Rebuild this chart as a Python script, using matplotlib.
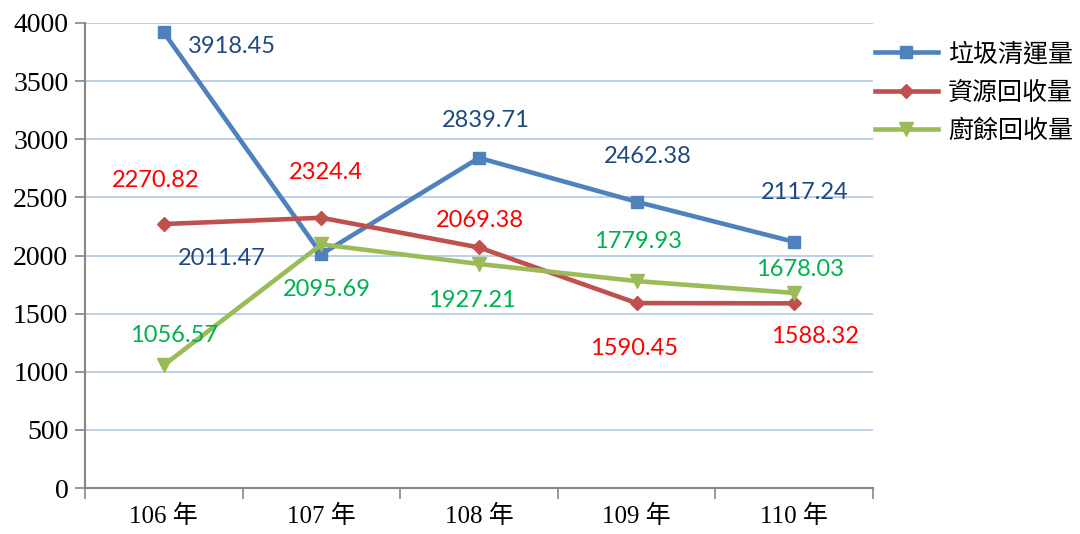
import matplotlib.pyplot as plt
import numpy as np

years = ["106 年", "107 年", "108 年", "109 年", "110 年"]
garbage = [3918.45, 2011.47, 2839.71, 2462.38, 2117.24]
recycle = [2270.82, 2324.4, 2069.38, 1590.45, 1588.32]
kitchen = [1056.57, 2095.69, 1927.21, 1779.93, 1678.03]
names = ["垃圾清運量", "資源回收量", "廚餘回收量"]

# label offsets in pixels (dx, dy), dy positive = up
off_garbage = [(68, -14), (-100, -4), (7, 37), (11, 45), (10, 49)]
off_recycle = [(-8, 44), (4, 45), (1, 27), (-3, -45), (21, -33)]
off_kitchen = [(10, 30), (5, -45), (-7, -37), (1, 40), (6, 23)]

cjk = ["Noto Sans CJK TC", "DejaVu Sans"]
serif = ["Liberation Serif", "Noto Sans CJK TC"]

fig = plt.figure(figsize=(10.8, 5.34), dpi=100)
ax = fig.add_axes([85 / 1080, 46 / 534, 788 / 1080, 465 / 534])

x = np.arange(len(years))
series = [
    (garbage, "#4f81bd", "s", 9, "#1f497d", off_garbage),
    (recycle, "#c0504d", "D", 7, "#ff0000", off_recycle),
    (kitchen, "#9bbb59", "v", 10, "#00b050", off_kitchen),
]
for (vals, col, mk, ms, lcol, offs), name in zip(series, names):
    ax.plot(x, vals, color=col, lw=3.3, marker=mk, ms=ms, label=name, zorder=3)
    for xi, v, (dx, dy) in zip(x, vals, offs):
        ax.annotate(f"{v:g}", (xi, v), xytext=(dx * 0.72, dy * 0.72),
                    textcoords="offset points", ha="center", va="center",
                    fontsize=17, color=lcol, family="Lato", zorder=4)

ax.set_xlim(-0.5, 4.5)
ax.set_ylim(0, 4000)
ax.set_yticks(np.arange(0, 4001, 500))
ax.set_yticklabels([str(v) for v in range(0, 4001, 500)], family=serif, fontsize=20)
ax.yaxis.grid(True, color="#b9cde5", lw=1.3)
ax.set_axisbelow(True)

ax.set_xticks(np.arange(-0.5, 5, 1))
ax.set_xticklabels([])
ax.set_xticks(x, minor=True)
ax.set_xticklabels(years, minor=True, family=serif, fontsize=18)
ax.tick_params(axis="x", which="major", length=8, color="#868686", width=1.2)
ax.tick_params(axis="x", which="minor", length=0, pad=12)
ax.tick_params(axis="y", length=7, color="#868686", width=1.2, pad=5)

for s in ["top", "right"]:
    ax.spines[s].set_visible(False)
for s in ["left", "bottom"]:
    ax.spines[s].set_color("#868686")
    ax.spines[s].set_linewidth(1.5)

leg = ax.legend(loc="upper left", bbox_to_anchor=(875 / 1080, 493 / 534),
                bbox_transform=fig.transFigure, frameon=False,
                prop={"family": cjk, "size": 18}, handlelength=2.5,
                labelspacing=0.5, handletextpad=0.42,
                borderpad=0, borderaxespad=0)

fig.savefig("out.png", dpi=100)
